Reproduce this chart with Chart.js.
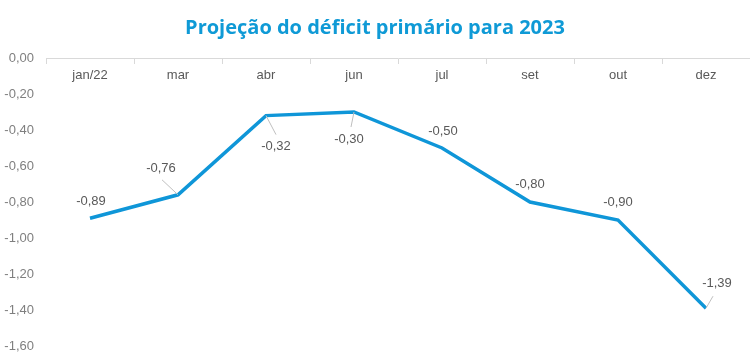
<!DOCTYPE html>
<html>
<head>
<meta charset="utf-8">
<script src="https://cdn.jsdelivr.net/npm/chart.js@4"></script>
<style>
  html, body { margin: 0; padding: 0; background: #ffffff; }
  #wrap { width: 750px; height: 356px; position: relative; }
</style>
</head>
<body>
<div id="wrap"><canvas id="c" width="750" height="356"></canvas></div>
<script>
const categories = ["jan/22", "mar", "abr", "jun", "jul", "set", "out", "dez"];
const deficit = [-0.89, -0.76, -0.32, -0.30, -0.50, -0.80, -0.90, -1.39];
const yTicks = [0, -0.2, -0.4, -0.6, -0.8, -1.0, -1.2, -1.4, -1.6];
const titleText = "Projeção do déficit primário para 2023";

// label placement (style): [dx, dy] of label centre from point, and optional leader end
const labelOffsets = [[1,-17],[-17,-26],[10,31],[-5,27],[1,-17],[0,-18],[0,-18],[11,-25]];
const leaderEnds = [null,[-16,-15],[10,19],[-3,15],null,null,null,[7,-12]];

const fmt = v => v.toFixed(2).replace('.', ',');

const labelPlugin = {
  id: 'pointLabels',
  afterDatasetsDraw(chart) {
    const ctx = chart.ctx;
    const meta = chart.getDatasetMeta(0);
    ctx.save();
    meta.data.forEach((pt, i) => {
      const le = leaderEnds[i];
      if (le) {
        ctx.beginPath();
        ctx.strokeStyle = '#bfbfbf';
        ctx.lineWidth = 1;
        ctx.moveTo(pt.x, pt.y);
        ctx.lineTo(pt.x + le[0], pt.y + le[1]);
        ctx.stroke();
      }
      const o = labelOffsets[i];
      ctx.fillStyle = '#595959';
      ctx.font = '13px "Liberation Sans", Arial, sans-serif';
      ctx.textAlign = 'center';
      ctx.textBaseline = 'middle';
      ctx.fillText(fmt(deficit[i]), pt.x + o[0], pt.y + o[1]);
    });
    ctx.restore();
  }
};

new Chart(document.getElementById('c'), {
  type: 'line',
  data: {
    labels: categories,
    datasets: [{
      data: deficit,
      borderColor: '#0f96d8',
      borderWidth: 3.5,
      pointRadius: 0,
      tension: 0,
      fill: false
    }]
  },
  options: {
    responsive: false,
    animation: false,
    layout: { padding: { left: 0, right: 0, top: 0, bottom: 10 } },
    plugins: {
      legend: { display: false },
      tooltip: { enabled: false },
      title: {
        display: true,
        text: titleText,
        color: '#0f9ad6',
        font: { family: '"Open Sans", "Liberation Sans", sans-serif', size: 20, weight: 'bold' },
        padding: { top: 16, bottom: 18 }
      }
    },
    scales: {
      x: {
        position: { y: 0 },
        offset: true,
        grid: {
          display: true,
          drawOnChartArea: false,
          drawTicks: true,
          tickLength: 5,
          color: '#d9d9d9',
          offset: true
        },
        border: { display: true, color: '#d9d9d9', width: 1 },
        ticks: {
          color: '#595959',
          font: { family: '"Liberation Sans", Arial, sans-serif', size: 13 },
          padding: 5,
          maxRotation: 0
        }
      },
      y: {
        min: -1.6,
        max: 0,
        afterBuildTicks(scale) { scale.ticks = yTicks.map(v => ({ value: v })); },
        afterFit(scale) { scale.width = 46; scale.paddingTop = 0; scale.paddingBottom = 0; },
        grid: { display: false, drawTicks: false },
        border: { display: false },
        ticks: {
          color: '#7f7f7f',
          font: { family: '"Liberation Sans", Arial, sans-serif', size: 13 },
          padding: 12,
          callback: v => fmt(v)
        }
      }
    }
  },
  plugins: [labelPlugin]
});
</script>
</body>
</html>
